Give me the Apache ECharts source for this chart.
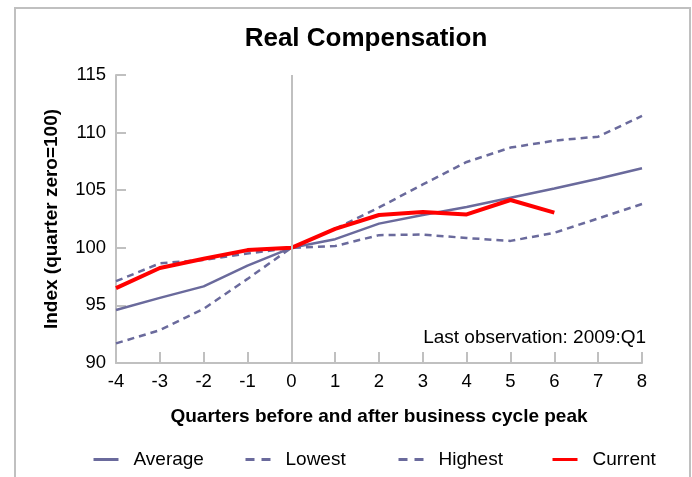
<!DOCTYPE html>
<html><head><meta charset="utf-8">
<script src="https://cdn.jsdelivr.net/npm/echarts@6/dist/echarts.min.js"></script>
<style>html,body{margin:0;padding:0;background:#fff}#c{width:692px;height:477px}</style>
</head><body><div id="c"></div>
<script>
var quarters = [-4,-3,-2,-1,0,1,2,3,4,5,6,7,8];
var average = [94.6,95.65,96.65,98.45,100,100.75,102.1,102.85,103.55,104.35,105.15,106.0,106.9];
var lowest  = [91.7,92.85,94.7,97.3,100,100.15,101.1,101.15,100.85,100.6,101.3,102.55,103.8];
var highest = [97.1,98.65,98.95,99.5,100,101.65,103.5,105.5,107.45,108.7,109.3,109.65,111.45];
var current = [96.5,98.25,99.05,99.8,100,101.65,102.85,103.1,102.9,104.15,103.05];
var yTicks = [90,95,100,105,110,115];
var seriesNames = ['Average','Lowest','Highest','Current'];
var note = 'Last observation: 2009:Q1';

function pairs(v){ return v.map(function(y,i){ return [quarters[i], y]; }); }
var slate = '#6a6a9c';
var axisGray = '#c0c0c0';
var font = 'Liberation Sans, Arial, sans-serif';
var legendLefts = [87, 239, 392, 546];
var legendDash = ['solid', [9,7], [9,7], 'solid'];

var legends = seriesNames.map(function(n, i){
  return {
    bottom: 3, left: legendLefts[i], itemWidth: 25, itemHeight: 10,
    itemStyle: {opacity: 0}, lineStyle: {width: 3, type: legendDash[i]},
    textStyle: {fontFamily: font, fontSize: 19, color: '#000', padding: [0,0,0,10]},
    data: [n]
  };
});

var chart = echarts.init(document.getElementById('c'));
chart.setOption({
  animation: false,
  textStyle: {fontFamily: font},
  title: {
    text: 'Real Compensation', left: 361, top: 21, textAlign: 'center',
    textStyle: {fontFamily: font, fontSize: 26, fontWeight: 'bold', color: '#000'}
  },
  grid: {left: 116, right: 50, top: 75, bottom: 114},
  xAxis: {
    type: 'value', min: -4, max: 8, interval: 1,
    name: 'Quarters before and after business cycle peak',
    nameLocation: 'middle', nameGap: 44,
    nameTextStyle: {fontFamily: font, fontSize: 19, fontWeight: 'bold', color: '#000'},
    axisLine: {onZero: false, lineStyle: {color: axisGray, width: 2}},
    axisTick: {inside: true, length: 11, lineStyle: {color: axisGray, width: 2}},
    axisLabel: {fontFamily: font, fontSize: 18.5, color: '#000', margin: 9},
    splitLine: {show: false}
  },
  yAxis: {
    type: 'value', min: yTicks[0], max: yTicks[yTicks.length-1], interval: 5,
    name: 'Index (quarter zero=100)',
    nameLocation: 'middle', nameGap: 55, nameRotate: 90,
    nameTextStyle: {fontFamily: font, fontSize: 19, fontWeight: 'bold', color: '#000'},
    axisLine: {show: true, onZero: false, lineStyle: {color: axisGray, width: 2}},
    axisTick: {show: true, inside: true, length: 10, lineStyle: {color: axisGray, width: 2}},
    axisLabel: {fontFamily: font, fontSize: 18.5, color: '#000', margin: 10},
    splitLine: {show: false}
  },
  legend: legends,
  graphic: [
    {type: 'rect', shape: {x: 15, y: 8, width: 675, height: 480}, style: {fill: 'none', stroke: axisGray, lineWidth: 2}, silent: true},
    {type: 'text', right: 46, top: 328, style: {text: note, font: '19px ' + font, fill: '#000'}}
  ],
  series: [
    {name: 'Average', type: 'line', data: pairs(average), symbol: 'none', z: 2,
     lineStyle: {color: slate, width: 2.5}, itemStyle: {color: slate},
     markLine: {silent: true, symbol: 'none', label: {show: false},
       lineStyle: {color: axisGray, width: 2, type: 'solid'}, data: [{xAxis: 0}]}},
    {name: 'Lowest', type: 'line', data: pairs(lowest), symbol: 'none', z: 2,
     lineStyle: {color: slate, width: 2.5, type: [7,5]}, itemStyle: {color: slate}},
    {name: 'Highest', type: 'line', data: pairs(highest), symbol: 'none', z: 2,
     lineStyle: {color: slate, width: 2.5, type: [7,5]}, itemStyle: {color: slate}},
    {name: 'Current', type: 'line', data: pairs(current), symbol: 'none', z: 3,
     lineStyle: {color: '#ff0000', width: 4}, itemStyle: {color: '#ff0000'}}
  ]
});
</script></body></html>
